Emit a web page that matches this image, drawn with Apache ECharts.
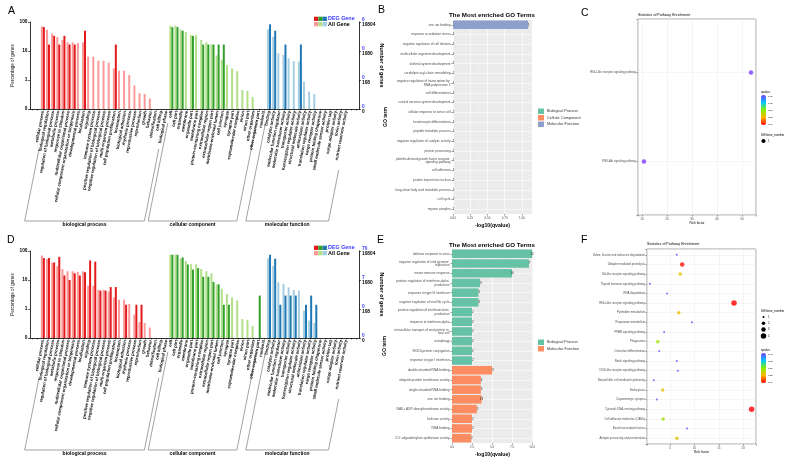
<!DOCTYPE html>
<html>
<head>
<meta charset="utf-8">
<script src="https://cdn.jsdelivr.net/npm/echarts@6/dist/echarts.min.js"></script>
<style>
  html, body { margin: 0; padding: 0; background: #fff; }
  #chart { width: 794px; height: 466px; }
</style>
</head>
<body>
<div id="chart"></div>
<script>
const FONT = '"Liberation Sans", Arial, sans-serif'

// ---------- A / D : GO classification (WEGO style) ----------
const goGroups = ['biological process', 'cellular component', 'molecular function']
const groupSizes = [25, 19, 16]
const goTerms = [
  'cellular process', 'biological regulation', 'regulation of biological process', 'metabolic process',
  'response to stimulus', 'multicellular organismal process', 'cellular component organization or biogenesis',
  'developmental process', 'localization', 'signaling', 'immune system process',
  'positive regulation of biological process', 'negative regulation of biological process', 'multi-organism process',
  'cell population proliferation', 'locomotion', 'biological adhesion', 'rhythmic process', 'reproductive process',
  'reproduction', 'growth', 'behavior', 'detoxification', 'cell killing', 'biological phase',
  'cell', 'cell part', 'organelle', 'membrane', 'organelle part', 'membrane part', 'protein-containing complex',
  'extracellular region', 'extracellular region part', 'membrane-enclosed lumen', 'cell junction', 'synapse',
  'synapse part', 'supramolecular complex', 'virion', 'virion part', 'other organism', 'other organism part', 'nucleoid',
  'binding', 'catalytic activity', 'molecular function regulator', 'molecular transducer activity',
  'transporter activity', 'transcription regulator activity', 'structural molecule activity', 'antioxidant activity',
  'translation regulator activity', 'cargo receptor activity', 'protein folding chaperone',
  'small molecule sensor activity', 'protein tag', 'cargo adaptor activity', 'toxin activity', 'nutrient reservoir activity'
]
// percentage of genes, All Gene background (same in A and D)
const allGenePct = [
  70, 53, 40, 30, 24, 20, 20, 19, 20, 6.4, 6.3, 4.6, 4.6, 4.0, 2.5, 2.1, 2.1, 1.5, 0.65, 0.35, 0.33, 0.23, null, null, null,
  75, 75, 55, 45, 35, 35, 24, 20, 17, 7, 5, 3.3, 2.5, 2.0, 0.45, 0.42, 0.26, null, null,
  56, 31, 8.3, 7.3, 5.6, 4.5, 4.3, 0.88, 0.4, 0.33, null, null, null, null, null, null
]
const degPctA = [
  66.7, 16.7, 33.3, 16.7, 33.3, 16.7, 16.7, null, 50, null, null, null, null, null, 16.7, null, null, null, null, null, null, null, null, null, null,
  66.7, 66.7, 50, null, 33.3, null, 16.7, 16.7, 16.7, 16.7, 16.7, null, null, null, null, null, null, null, null,
  83.3, 50, null, 16.7, null, null, 16.7, null, null, null, null, null, null, null, null, null
]
const degPctD = [
  57.1, 57.1, 40, 62.9, 14.3, 10, 17.1, 14.3, 18.6, 47.1, 42.9, 4.3, 4.3, 5.7, 5.7, null, 1.4, null, 1.4, 1.4, null, null, null, null, null,
  74.3, 74.3, 60, 34.3, 22.9, 25.7, 12.9, 12.9, 8.6, 7.1, 1.4, 1.4, null, null, null, null, null, 2.9, null,
  74.3, 54.3, 1.4, 2.9, 2.9, 2.9, null, 1.4, 2.9, 1.4, null, null, null, null, null, null
]
const pctTickLabels = { '0.1': '0', '1': '1', '10': '10', '100': '100' }
const allGeneCountLabels = ['0', '108', '1080', '10804']
const degCountLabelsA = ['0', '0', '0', '6']
const degCountLabelsD = ['0', '0', '7', '70']

// ---------- B / E : most enriched GO terms ----------
const goTypes = ['Biological Process', 'Cellular Component', 'Molecular Function']
const bTerms = [
  'zinc ion binding', 'response to oxidative stress', 'negative regulation of cell division',
  'multicellular organism development', 'skeletal system development', 'cardiolipin acyl-chain remodeling',
  'negative regulation of transcription by RNA polymerase II', 'cell differentiation',
  'central nervous system development', 'cellular response to tumor cell', 'keratinocyte differentiation',
  'peptide metabolic process', 'negative regulation of catalytic activity', 'protein processing',
  'platelet-derived growth factor receptor signaling pathway', 'cell adhesion', 'protein import into nucleus',
  'long-chain fatty acid metabolic process', 'cell cycle', 'myosin complex'
]
const bValues = [1.09, 0, 0, 0, 0, 0, 0, 0, 0, 0, 0, 0, 0, 0, 0, 0, 0, 0, 0, 0]
const bTypes = [2, 0, 0, 0, 0, 0, 0, 0, 0, 0, 0, 0, 0, 0, 0, 0, 0, 0, 0, 1]
const bCounts = [1, 1, 1, 1, 1, 1, 1, 1, 1, 1, 1, 1, 1, 1, 1, 1, 1, 1, 1, 1]

const eTerms = [
  'defense response to virus', 'negative regulation of viral genome replication', 'innate immune response',
  'positive regulation of interferon-alpha production', 'response to type III interferon',
  'negative regulation of viral life cycle', 'positive regulation of interferon-beta production',
  'response to interferon-alpha', 'intracellular transport of viral protein in host cell', 'autophagy',
  'ISG15-protein conjugation', 'response to type I interferon', 'double-stranded RNA binding',
  'ubiquitin-protein transferase activity', 'single-stranded RNA binding', 'zinc ion binding',
  'NAD+ ADP-ribosyltransferase activity', 'helicase activity', 'RNA binding', "2'-5'-oligoadenylate synthetase activity"
]
const eValues = [10.0, 9.6, 7.5, 3.5, 3.3, 3.3, 2.5, 2.5, 2.5, 2.5, 2.5, 2.5, 5.0, 3.6, 3.6, 3.7, 3.1, 2.5, 2.5, 2.4]
const eTypes = [0, 0, 0, 0, 0, 0, 0, 0, 0, 0, 0, 0, 2, 2, 2, 2, 2, 2, 2, 2]
const eCounts = [15, 7, 10, 3, 3, 3, 2, 2, 2, 2, 2, 2, 3, 4, 3, 13, 2, 2, 2, 2]

// ---------- C / F : KEGG pathway enrichment ----------
const cPathways = ['RIG-I-like receptor signaling pathway', 'PI3K-Akt signaling pathway']
const cRich = [53.6, 10.8]
const cQ = [1, 1]
const cNum = [1, 1]

const fPathways = [
  'Valine, leucine and isoleucine degradation', 'Ubiquitin mediated proteolysis', 'Toll-like receptor signaling pathway',
  'Thyroid hormone signaling pathway', 'RNA degradation', 'RIG-I-like receptor signaling pathway',
  'Pyrimidine metabolism', 'Propanoate metabolism', 'PPAR signaling pathway', 'Phagosome',
  'Osteoclast differentiation', 'Notch signaling pathway', 'NOD-like receptor signaling pathway',
  'Natural killer cell mediated cytotoxicity', 'Endocytosis', 'Dopaminergic synapse',
  'Cytosolic DNA-sensing pathway', 'Cell adhesion molecules (CAMs)', 'Basal transcription factors',
  'Antigen processing and presentation'
]
const fRich = [6.4, 7.5, 7.1, 0.9, 4.4, 18.1, 6.8, 9.5, 3.8, 2.5, 2.8, 6.4, 6.6, 1.7, 3.5, 2.3, 21.7, 3.6, 8.5, 6.4]
const fQ = [1, 0.02, 0.3, 1, 1, 0, 0.3, 1, 1, 0.45, 1, 1, 1, 1, 0.3, 1, 0, 0.45, 1, 0.3]
const fNum = [1, 3, 2, 1, 1, 4, 2, 1, 1, 2, 1, 1, 1, 1, 2, 1, 4, 2, 1, 2]
const sizeLegendValues = [1, 2, 3, 4]
const qTickLabels = ['1.00', '0.75', '0.50', '0.25', '0.00']

// ---------- styling ----------
const darkColors = ['#E31A1C', '#33A02C', '#1F78B4']
const lightColors = ['#FB9A99', '#B2DF8A', '#A6CEE3']
// ggplot Set2 colours follow the levels present in each panel
const bTypeColors = ['#66C2A5', '#FC8D62', '#8DA0CB']
const eTypeColors = ['#66C2A5', null, '#FC8D62']
const qColors = ['#FF0000', '#FFB400', '#86F000', '#00C8FF', '#7A3CFF']
const fDiam = [0, 2, 3.5, 4.5, 5.5]
const PAD = 2 // empty category slots at each end of the GO axis

const groupOf = i => (i < groupSizes[0] ? 0 : i < groupSizes[0] + groupSizes[1] ? 1 : 2)
const padded = arr => [...Array(PAD).fill(null), ...arr, ...Array(PAD).fill(null)]
const goAxisData = padded(goTerms).map(t => t || '')

const chart = echarts.init(document.getElementById('chart'), null, { renderer: 'canvas' })

function goBars(values, colors, idx, name) {
  return {
    type: 'bar', name, xAxisIndex: idx, yAxisIndex: idx * 2,
    barWidth: 2, barGap: '0%', silent: true,
    data: padded(values).map((v, i) => v == null ? '-' : { value: v, itemStyle: { color: colors[groupOf(i - PAD)] } })
  }
}

function goXAxis(grid) {
  return {
    type: 'category', gridIndex: grid, data: goAxisData,
    axisLine: { lineStyle: { color: '#000', width: 0.8 } },
    axisTick: { show: true, alignWithLabel: true, length: 1.5, interval: 0, lineStyle: { color: '#000', width: 0.5 } },
    axisLabel: { interval: 0, rotate: 79, fontSize: 4.2, fontWeight: 'bold', color: '#000', margin: 2, fontFamily: FONT }
  }
}

function goLeftY(grid) {
  return {
    type: 'log', logBase: 10, gridIndex: grid, min: 0.1, max: 100, startValue: 0.1,
    name: 'Percentage of genes', nameLocation: 'middle', nameGap: 12, nameRotate: 90,
    nameTextStyle: { fontSize: 4.6, color: '#000', fontFamily: FONT },
    axisLine: { show: true, lineStyle: { color: '#000', width: 0.8 } },
    axisTick: { show: true, length: 2, lineStyle: { color: '#000', width: 0.6 } },
    splitLine: { show: false },
    axisLabel: {
      fontSize: 4.8, fontWeight: 'bold', color: '#000', margin: 2.5, fontFamily: FONT,
      formatter: v => pctTickLabels[String(+v.toPrecision(3))] ?? ''
    }
  }
}

function goRightY(grid, degLabels) {
  return {
    type: 'log', logBase: 10, gridIndex: grid, min: 0.1, max: 100, position: 'right',
    name: 'Number of genes', nameLocation: 'middle', nameGap: 18, nameRotate: -90,
    nameTextStyle: { fontSize: 5.4, fontWeight: 'bold', color: '#000', fontFamily: FONT },
    axisLine: { show: true, lineStyle: { color: '#000', width: 0.8 } },
    axisTick: { show: true, length: 2, lineStyle: { color: '#000', width: 0.6 } },
    splitLine: { show: false },
    axisLabel: {
      margin: 3, fontFamily: FONT,
      formatter: v => {
        const k = Math.round(Math.log10(v)) + 1
        return `{b|${degLabels[k]}}\n{k|${allGeneCountLabels[k]}}`
      },
      rich: {
        b: { color: '#3B3BFF', fontSize: 4.8, fontWeight: 'bold', lineHeight: 5.4, fontFamily: FONT },
        k: { color: '#000', fontSize: 4.8, fontWeight: 'bold', lineHeight: 5.4, fontFamily: FONT }
      }
    }
  }
}

function enrichYAxis(grid, terms) {
  return {
    type: 'category', gridIndex: grid, data: terms, inverse: true,
    name: 'GO term', nameLocation: 'middle', nameGap: 64, nameRotate: 90,
    nameTextStyle: { fontSize: 5, fontWeight: 'bold', color: '#000', fontFamily: FONT },
    axisLine: { show: false },
    axisTick: { show: true, alignWithLabel: true, length: 1.5, lineStyle: { color: '#333', width: 0.5 } },
    splitLine: { show: true, alignWithLabel: true, lineStyle: { color: '#fff', width: 0.6 } },
    axisLabel: {
      interval: 0, fontSize: 3.2, color: '#4D4D4D', margin: 2.5, width: 58, overflow: 'break',
      lineHeight: 3.6, fontFamily: FONT
    }
  }
}

function enrichXAxis(grid, max, interval, digits) {
  return {
    type: 'value', gridIndex: grid, min: 0, max, interval,
    name: '-log10(qvalue)', nameLocation: 'middle', nameGap: 9,
    nameTextStyle: { fontSize: 5.2, fontWeight: 'bold', color: '#000', fontFamily: FONT },
    axisLine: { show: false },
    axisTick: { show: true, length: 1.5, lineStyle: { color: '#333', width: 0.5 } },
    splitLine: { show: true, lineStyle: { color: '#fff', width: 0.6 } },
    minorTick: { show: false, splitNumber: 2 },
    minorSplitLine: { show: true, lineStyle: { color: '#F5F5F5', width: 0.4 } },
    axisLabel: { fontSize: 3, color: '#4D4D4D', margin: 2.5, showMaxLabel: false, fontFamily: FONT, formatter: v => v.toFixed(digits) }
  }
}

function enrichBars(grid, values, types, counts, colors) {
  return goTypes.map((t, k) => ({
    type: 'bar', name: t, xAxisIndex: grid, yAxisIndex: grid + 2, stack: 'go' + grid,
    barWidth: '88%', silent: true,
    itemStyle: { color: colors[k] || '#ccc' },
    label: {
      show: true, position: 'insideRight', distance: -1.5, fontSize: 3, color: '#222', fontFamily: FONT,
      formatter: p => String(counts[p.dataIndex])
    },
    data: values.map((v, i) => (types[i] === k ? v : '-'))
  }))
}

function pathwayXAxis(grid, min, max, step) {
  return {
    type: 'value', gridIndex: grid, min, max,
    name: 'Rich factor', nameLocation: 'middle', nameGap: 7,
    nameTextStyle: { fontSize: 3.2, color: '#000', fontFamily: FONT },
    axisLine: { show: false },
    axisTick: { show: true, length: 1.5, lineStyle: { color: '#333', width: 0.5 } },
    splitLine: { show: true, lineStyle: { color: '#EBEBEB', width: 0.5 } },
    axisLabel: {
      fontSize: 3, color: '#4D4D4D', margin: 2.5, fontFamily: FONT,
      formatter: v => (Math.abs(v / step - Math.round(v / step)) < 1e-6 ? String(v) : '')
    }
  }
}

function pathwayYAxis(grid, names) {
  const n = names.length
  return {
    type: 'value', gridIndex: grid, min: 0.4, max: n + 0.6, splitNumber: n, minInterval: 1,
    axisLine: { show: false },
    axisTick: { show: true, length: 1.5, lineStyle: { color: '#333', width: 0.5 } },
    splitLine: { show: true, lineStyle: { color: '#EBEBEB', width: 0.5 } },
    axisLabel: {
      fontSize: 2.8, color: '#4D4D4D', margin: 2, fontFamily: FONT,
      formatter: v => (Number.isInteger(v) && v >= 1 && v <= n ? names[n - v] : '')
    }
  }
}

const legendItems = (colors) => goTypes
  .map((t, k) => (colors[k] ? { name: t, itemStyle: { color: colors[k] } } : null))
  .filter(Boolean)

const option = {
  animation: false,
  textStyle: { fontFamily: FONT },
  title: [
    { text: 'A', left: 8, top: 6 }, { text: 'B', left: 378, top: 5 }, { text: 'C', left: 581, top: 8 },
    { text: 'D', left: 7, top: 235 }, { text: 'E', left: 377, top: 235 }, { text: 'F', left: 581, top: 235 }
  ].map(t => ({ ...t, padding: 0, textStyle: { fontSize: 10.5, fontWeight: 'normal', color: '#000', fontFamily: FONT } }))
    .concat([
      { text: 'The Most enriched GO Terms', left: 492, top: 12, textAlign: 'center', padding: 0,
        textStyle: { fontSize: 6.2, fontWeight: 'bold', color: '#000', fontFamily: FONT } },
      { text: 'The Most enriched GO Terms', left: 492, top: 242, textAlign: 'center', padding: 0,
        textStyle: { fontSize: 6.2, fontWeight: 'bold', color: '#000', fontFamily: FONT } },
      { text: 'Statistics of Pathway Enrichment', left: 638, top: 13, padding: 0,
        textStyle: { fontSize: 3.6, fontWeight: 'normal', color: '#000', fontFamily: FONT } },
      { text: 'Statistics of Pathway Enrichment', left: 647, top: 242, padding: 0,
        textStyle: { fontSize: 3.6, fontWeight: 'normal', color: '#000', fontFamily: FONT } }
    ]),
  grid: [
    { left: 30, top: 22, width: 329, height: 87 },
    { left: 30, top: 251, width: 329, height: 87 },
    { left: 453, top: 20, width: 79, height: 194, show: true, backgroundColor: '#EBEBEB', borderWidth: 0 },
    { left: 452, top: 249, width: 81, height: 194, show: true, backgroundColor: '#EBEBEB', borderWidth: 0 },
    { left: 638, top: 19, width: 118, height: 196, show: true, backgroundColor: '#fff', borderColor: '#7F7F7F', borderWidth: 0.7 },
    { left: 647, top: 249, width: 109, height: 195, show: true, backgroundColor: '#fff', borderColor: '#7F7F7F', borderWidth: 0.7 }
  ].map(g => ({ ...g, containLabel: false, outerBoundsMode: 'none' })),
  xAxis: [
    goXAxis(0), goXAxis(1),
    enrichXAxis(2, 1.145, 0.25, 2), enrichXAxis(3, 10.1, 2.5, 1),
    pathwayXAxis(4, 8.4, 55.6, 10), pathwayXAxis(5, 0.3, 22.6, 5)
  ],
  yAxis: [
    goLeftY(0), goRightY(0, degCountLabelsA),
    goLeftY(1), goRightY(1, degCountLabelsD),
    enrichYAxis(2, bTerms), enrichYAxis(3, eTerms),
    pathwayYAxis(4, cPathways), pathwayYAxis(5, fPathways)
  ],
  legend: [
    { data: legendItems(bTypeColors), orient: 'vertical', left: 538, top: 108.5 },
    { data: legendItems(eTypeColors), orient: 'vertical', left: 538, top: 339.5 }
  ].map(l => ({
    ...l, padding: 0, itemWidth: 6, itemHeight: 5.5, itemGap: 1, icon: 'rect', selectedMode: false,
    textStyle: { fontSize: 3.8, color: '#333', fontFamily: FONT, padding: [0, 0, 0, -2] }
  })),
  visualMap: [
    { seriesIndex: 10, left: 761, top: 95 },
    { seriesIndex: 11, left: 761, top: 353 }
  ].map(v => ({
    ...v, type: 'continuous', dimension: 2, min: 0, max: 1, itemWidth: 5, itemHeight: 30,
    calculable: false, padding: 0, inRange: { color: qColors }, text: null, showLabel: false
  })),
  series: [
    goBars(allGenePct, lightColors, 0, 'All Gene'),
    goBars(degPctA, darkColors, 0, 'DEG Gene'),
    goBars(allGenePct, lightColors, 1, 'All Gene'),
    goBars(degPctD, darkColors, 1, 'DEG Gene'),
    ...enrichBars(2, bValues, bTypes, bCounts, bTypeColors),
    ...enrichBars(3, eValues, eTypes, eCounts, eTypeColors),
    {
      type: 'scatter', xAxisIndex: 4, yAxisIndex: 6, symbolSize: 4.5, silent: true,
      data: cRich.map((r, i) => [r, cPathways.length - i, cQ[i], cNum[i]])
    },
    {
      type: 'scatter', xAxisIndex: 5, yAxisIndex: 7, silent: true,
      symbolSize: v => fDiam[v[3]],
      data: fRich.map((r, i) => [r, fPathways.length - i, fQ[i], fNum[i]])
    }
  ]
}

chart.setOption(option)

// ---------- decorations: GO legends, group brackets, colour-bar ticks, size legends ----------
const txt = (x, y, text, size, opts = {}) => ({
  type: 'text', x, y, silent: true,
  style: Object.assign({
    text, fill: '#000', fontSize: size, fontFamily: FONT,
    align: 'left', verticalAlign: 'middle', textAlign: 'left', textVerticalAlign: 'middle'
  }, opts)
})

function goLegend(dy) {
  const out = []
  darkColors.forEach((c, k) => out.push({ type: 'rect', silent: true, shape: { x: 314 + k * 4.3, y: 16.7 + dy, width: 4.3, height: 4.3 }, style: { fill: c } }))
  lightColors.forEach((c, k) => out.push({ type: 'rect', silent: true, shape: { x: 314 + k * 4.3, y: 22 + dy, width: 4.3, height: 4.3 }, style: { fill: c } }))
  out.push(txt(328, 19 + dy, 'DEG Gene', 5.4, { fill: '#3B3BFF', fontWeight: 'bold' }))
  out.push(txt(328, 24.3 + dy, 'All Gene', 5.4, { fontWeight: 'bold' }))
  return out
}

const bracketTops = [[39, 40], [14, 14], [14, 61]]
function brackets(xi, yi) {
  const out = []
  const y0 = chart.convertToPixel({ yAxisIndex: yi }, 0.1)
  const p0 = chart.convertToPixel({ xAxisIndex: xi }, PAD)
  const band = chart.convertToPixel({ xAxisIndex: xi }, PAD + 1) - p0
  const yb = y0 + 112
  let start = 0
  goGroups.forEach((g, k) => {
    const bL = p0 - band / 2 + start * band
    const bR = bL + groupSizes[k] * band
    start += groupSizes[k]
    const tl = y0 + bracketTops[k][0]
    const tr = y0 + bracketTops[k][1]
    const xl = bL - 1
    const xr = bR - 10
    const xlb = xl - 0.2 * (yb - tl)
    const xrb = xr - 0.2 * (yb - tr)
    out.push({
      type: 'polyline', silent: true,
      shape: { points: [[xl, tl], [xlb, yb], [xrb, yb], [xr, tr]] },
      style: { stroke: '#8C8C8C', lineWidth: 0.8, fill: null }
    })
    out.push(txt((xlb + xrb) / 2, yb + 4, g, 5, { fontWeight: 'bold', align: 'center', textAlign: 'center' }))
  })
  return out
}

function colourBarTicks(top) {
  const out = [txt(761, top - 3, 'qvalue', 3)]
  qTickLabels.forEach((l, i) => out.push(txt(768, top + 1 + i * 7, l, 2.4)))
  return out
}

function sizeLegend(top, values, diam) {
  const out = [txt(761, top, 'DEGene_number', 3)]
  let y = top + 6
  values.forEach(v => {
    out.push({ type: 'circle', silent: true, shape: { cx: 763.5, cy: y, r: diam(v) / 2 }, style: { fill: '#000' } })
    out.push(txt(768, y, String(v), 2.6))
    y += 6.3
  })
  return out
}

chart.setOption({
  graphic: [
    ...goLegend(0), ...goLegend(229),
    ...brackets(0, 0), ...brackets(1, 2),
    ...colourBarTicks(95), ...colourBarTicks(353),
    ...sizeLegend(135, [1], () => 4.2),
    ...sizeLegend(311, sizeLegendValues, v => fDiam[v])
  ]
})
</script>
</body>
</html>
